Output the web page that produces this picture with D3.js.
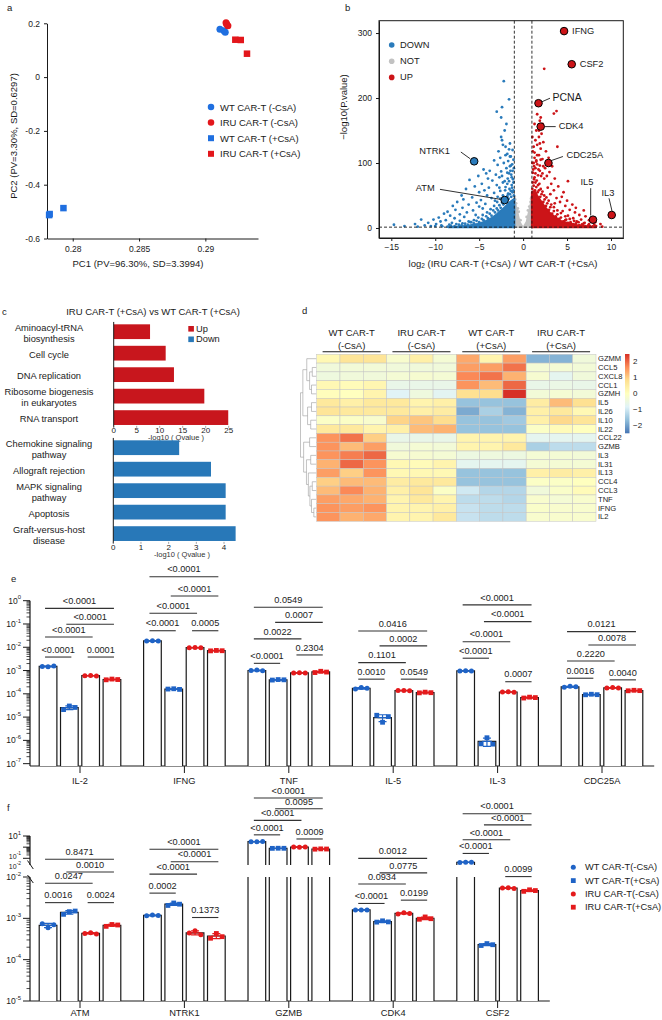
<!DOCTYPE html>
<html><head><meta charset="utf-8">
<script src="https://cdn.jsdelivr.net/npm/d3@7/dist/d3.min.js"></script>
<style>html,body{margin:0;padding:0;background:#fff;}svg{display:block;}</style>
</head><body>
<svg id="fig" width="662" height="1020" xmlns="http://www.w3.org/2000/svg"></svg>
<script>
// ======================= DATA =======================
// ---- Panel a: PCA ----
const pcaGroups = ["WT CAR-T (-CsA)", "IRU CAR-T (-CsA)", "WT CAR-T (+CsA)", "IRU CAR-T (+CsA)"];
const pcaPC1 = [[0.2911, 0.2914, 0.2915], [0.29156, 0.2917, 0.2916], [0.27822, 0.27826, 0.2793], [0.29226, 0.29267, 0.29314]];
const pcaPC2 = [[0.178, 0.172, 0.167], [0.202, 0.191, 0.197], [-0.513, -0.509, -0.487], [0.139, 0.138, 0.087]];
const pc1Ticks = [0.28, 0.285, 0.29];
const pc2Ticks = [0.2, 0, -0.2, -0.4, -0.6];

// ---- Panel b: volcano ----
const volcNotCore = [[-1.0,0],[-1.0,48],[-0.8,40],[-0.55,25],[-0.3,10],[0,3],[0.3,10],[0.55,25],[0.8,40],[1.0,48],[1.0,0]];
const volcNot = [[-0.9,44],[-0.8,38],[-0.6,30],[0.7,33],[0.9,45],[-0.3,12],[0.4,17],[0.85,40],[-0.95,48],[0.95,47],[-0.5,25],[0.55,27]];
const volcDownCore = [[-1.0,1.3],[-1.0,45],[-1.5,40],[-2.0,33],[-2.5,27],[-3.0,21],[-3.6,15],[-4.3,10],[-5.2,6],[-6.3,3.5],[-7.6,2],[-8.5,1.3]];
const volcDown = [[-2.2,226],[-1.6,198],[-2.4,186],[-3.0,179],[-2.5,170],[-1.9,160],[-2.1,150],[-2.5,140],[-2.4,135],[-2.3,128],[-2.0,125],[-1.6,121],[-2.8,118],[-1.8,114],[-2.0,112],[-1.5,110],[-2.6,108],[-3.3,104],[-1.7,103],[-2.2,100],[-2.9,97],[-1.4,96],[-4.5,90],[-3.8,88],[-2.5,87],[-4.2,84],[-1.8,85],[-3.1,82],[-5.1,80],[-2.7,78],[-4.0,76],[-6.1,74],[-3.5,73],[-1.6,72],[-2.3,70],[-4.7,68],[-3.0,66],[-5.5,64],[-2.0,63],[-3.9,62],[-6.5,60],[-4.4,58],[-2.6,57],[-5.0,55],[-3.3,54],[-1.7,52],[-7.0,50],[-4.1,50],[-2.9,48],[-5.8,47],[-3.6,46],[-6.8,44],[-4.8,43],[-3.2,42],[-7.5,40],[-5.3,39],[-4.3,37],[-6.2,36],[-8.0,34],[-5.0,33],[-6.9,31],[-4.6,30],[-7.7,28],[-5.7,27],[-8.6,25],[-6.4,24],[-9.0,22],[-7.2,21],[-5.4,20],[-8.3,19],[-6.7,17],[-9.6,16],[-7.8,15],[-10.2,13],[-8.8,12],[-11.6,13],[-7.2,11],[-9.4,10],[-10.8,8],[-12.3,6],[-14.7,5],[-11.2,4],[-9.9,6],[-13.5,3],[-8.1,8],[-6.0,9],[-10.5,3],[-12.0,2],[-1.1,70],[-1.3,78],[-1.2,88],[-1.5,95],[-1.9,92],[-1.1,105],[-1.4,110],[-1.3,66],[-2.1,72],[-2.4,80],[-1.6,84],[-1.8,68],[-2.7,62],[-1.2,120],[-1.5,130],
 [-1.05,50],[-1.2,55],[-1.35,48],[-1.5,52],[-1.65,45],[-1.8,49],[-1.95,40],[-2.1,44],[-2.25,36],[-2.4,39],[-2.55,31],[-2.7,35],[-2.85,27],[-3.0,30],[-3.2,24],[-3.4,27],[-3.6,19],[-3.8,22],[-4.0,15],[-4.2,18],[-4.5,12],[-4.7,14],[-5.0,9],[-5.3,11],[-5.6,7],[-5.9,9],[-6.3,5],[-6.6,6.5],[-7.0,4],[-7.3,5],[-7.8,3],[-8.2,3.5],[-8.6,2],[-9.2,2.5],[-1.1,58],[-1.25,62],[-1.4,57],[-1.55,60],[-1.7,53],[-1.15,75],[-1.35,82],[-1.05,92],[-1.25,98],[-1.45,88],[-1.75,76],[-2.05,58],[-2.3,50],[-2.6,45],[-2.95,40],[-3.3,34],[-3.7,29],[-4.1,24],[-4.6,20],[-5.1,16],[-5.6,12],[-6.2,10],[-6.9,7],[-7.6,6],[-8.4,5],[-9.3,4],[-10.0,3]];
const volcUpCore = [[1.0,1.3],[1.0,55],[1.3,57],[1.6,50],[2.0,42],[2.5,32],[3.0,24],[3.6,17],[4.3,11],[5.2,7],[6.3,4],[7.5,2],[8.3,1.3]];
const volcUp = [[2.4,245],[3.8,180],[3.5,176],[1.6,175],[2.0,170],[1.9,165],[2.2,160],[1.5,150],[2.1,145],[1.8,140],[3.9,125],[1.4,135],[2.3,132],[1.6,128],[2.0,122],[2.6,118],[1.3,116],[1.8,112],[2.9,108],[2.2,106],[1.5,104],[3.3,95],[2.5,92],[1.9,96],[3.0,86],[2.7,80],[3.6,76],[5.1,72],[3.2,68],[4.0,64],[2.8,62],[3.5,58],[4.6,55],[3.1,52],[4.4,48],[5.0,42],[3.8,46],[4.2,40],[5.6,36],[3.6,38],[4.8,34],[6.0,31],[5.3,28],[6.9,27],[4.5,26],[5.9,24],[6.4,20],[5.1,19],[7.1,18],[5.7,15],[6.6,13],[7.5,12],[4.9,13],[6.1,10],[7.0,8],[8.2,9],[5.4,7],[8.8,6],[6.8,4],[7.6,3],[9.0,2],[1.1,118],[1.3,108],[1.2,100],[1.6,98],[1.4,92],[1.9,88],[1.1,85],[2.2,84],[1.7,81],[1.3,78],[2.4,76],[1.5,102],[2.0,105],[1.2,125],[1.9,130],[1.05,140],[1.6,112],[2.3,95],[1.8,150],[1.3,160],
 [1.05,60],[1.2,65],[1.35,58],[1.5,63],[1.65,55],[1.8,58],[1.95,48],[2.1,52],[2.3,40],[2.45,44],[2.6,34],[2.75,38],[2.95,28],[3.1,32],[3.3,22],[3.5,26],[3.7,18],[3.9,21],[4.1,14],[4.3,16],[4.6,10],[4.8,12],[5.1,8],[5.4,9],[5.7,6],[6.0,7],[6.4,4.5],[6.7,5.5],[7.1,3],[7.4,4],[7.9,2.5],[8.3,3],[1.1,70],[1.25,75],[1.4,70],[1.55,73],[1.7,66],[1.85,68],[2.0,60],[2.2,56],[2.4,50],[2.65,47],[2.9,42],[3.2,36],[3.5,32],[3.9,27],[4.3,23],[4.8,18],[5.3,14],[5.8,11],[6.3,9],[6.9,7],[7.5,6],[8.1,5],[1.15,90],[1.4,84],[1.05,100],[1.75,90],[2.05,80],[1.25,95]];
const volcGenes = ["IFNG","CSF2","PCNA","CDK4","CDC25A","IL5","IL3","NTRK1","ATM"];
const volcGeneFC = [4.66, 5.53, 1.75, 2.0, 2.88, 7.95, 10.08, -5.57, -2.1];
const volcGeneP = [303, 252, 192, 156, 100, 12.8, 20, 102.6, 43];
const volcXTicks = [-15, -10, -5, 0, 5, 10];
const volcYTicks = [0, 100, 200, 300];

// ---- Panel c: KEGG enrichment ----
const upTerms = ["Aminoacyl-tRNA\nbiosynthesis", "Cell cycle", "DNA replication", "Ribosome biogenesis\nin eukaryotes", "RNA transport"];
const upValues = [7.9, 11.3, 13.1, 19.7, 24.9];
const downTerms = ["Chemokine signaling\npathway", "Allograft rejection", "MAPK signaling\npathway", "Apoptosis", "Graft-versus-host\ndisease"];
const downValues = [2.38, 3.53, 4.06, 4.06, 4.42];
const upTicks = [0, 5, 10, 15, 20, 25];
const downTicks = [0, 1, 2, 3, 4];

// ---- Panel d: heatmap ----
const hmGenes = ["GZMM","CCL5","CXCL8","CCL1","GZMH","IL5","IL26","IL10","IL22","CCL22","GZMB","IL3","IL31","IL13","CCL4","CCL3","TNF","IFNG","IL2"];
const hmGroups = ["WT CAR-T\n(-CsA)", "IRU CAR-T\n(-CsA)", "WT CAR-T\n(+CsA)", "IRU CAR-T\n(+CsA)"];
const hmValues = [
 [0.2,0.7,0.7, -0.2,0.4,-0.3, 1.4,0.3,1.5, -1.8,-1.8,-0.4],
 [-0.4,-0.35,-0.35, -0.4,-0.4,-0.4, 1.5,1.5,1.9, -0.3,-0.3,-0.35],
 [-0.45,-0.4,-0.4, -0.3,-0.25,-0.3, 1.7,1.9,1.3, -0.25,-0.7,-0.4],
 [0.2,0.1,0.25, -0.6,-0.6,-0.6, 1.6,1.2,2.0, -0.6,-0.55,-0.6],
 [0.05,0.0,0.3, -0.8,-0.45,-0.75, 0.8,0.85,2.5, -0.35,-0.3,-0.35],
 [0.6,0.4,0.6, 0.6,0.3,0.4, -1.6,-1.6,-1.6, 0.5,1.2,0.8],
 [0.7,0.6,0.6, 0.6,0.4,0.5, -1.9,-1.4,-1.8, 0.4,0.6,0.2],
 [-0.1,-0.1,-0.2, 0.95,1.1,0.85, -1.6,-1.6,-1.5, 0.4,0.9,0.7],
 [0.6,0.6,0.3, 0.4,1.2,1.3, -1.6,-1.6,-1.6, -0.1,0.1,0.0],
 [1.6,1.9,1.0, -0.6,-0.6,-0.6, 0.3,0.3,0.3, -0.7,-0.7,-0.7],
 [1.6,1.2,1.5, -0.4,-0.3,-0.35, 0.3,0.3,0.6, -1.4,-1.2,-1.2],
 [1.6,1.8,2.0, -0.25,-0.25,-0.3, -0.5,-0.45,-0.5, -0.3,-0.3,-0.35],
 [1.3,2.0,1.6, 0.2,0.1,0.3, -0.7,-0.7,-0.7, -0.3,-0.3,-0.3],
 [1.5,1.0,1.6, 0.2,0.2,0.2, -1.6,-1.6,-1.6, 0.4,0.5,0.4],
 [1.0,1.2,1.2, 0.5,0.6,0.6, -1.6,-1.6,-1.6, -0.1,-0.1,0.0],
 [1.2,1.7,1.3, 0.4,0.7,-0.1, -1.0,-1.3,-1.3, -0.4,-0.15,0.1],
 [1.5,1.4,1.3, 0.3,0.6,0.3, -1.2,-1.2,-1.3, -0.2,-0.3,-0.2],
 [1.6,1.5,1.6, 0.3,0.3,0.4, -1.1,-1.2,-1.2, -0.15,-0.2,-0.2],
 [1.6,1.3,1.4, 0.3,0.3,0.6, -1.1,-1.2,-1.2, -0.2,-0.2,-0.2]
];
const hmTree = {h:1,c:[{h:0.85,c:[{h:0.6,c:[0,{h:0.42,c:[{h:0.25,c:[1,2]},{h:0.3,c:[3,4]}]}]},{h:0.55,c:[{h:0.3,c:[5,6]},{h:0.35,c:[7,8]}]}]},{h:0.8,c:[{h:0.42,c:[9,10]},{h:0.62,c:[{h:0.35,c:[11,12]},{h:0.5,c:[13,{h:0.4,c:[{h:0.25,c:[14,15]},{h:0.3,c:[16,{h:0.15,c:[17,18]}]}]}]}]}]}]};
const hmLegendTicks = [2, 1, 0, -1, -2];

// ---- Panels e / f: qPCR ----
const conditions = ["WT CAR-T(-CsA)", "WT CAR-T(+CsA)", "IRU CAR-T(-CsA)", "IRU CAR-T(+CsA)"];
const eGenes = ["IL-2", "IFNG", "TNF", "IL-5", "IL-3", "CDC25A"];
const eReplicates = [
 [[1.5e-3,1.45e-3,1.55e-3],[2.1e-5,3.0e-5,2.6e-5],[6.0e-4,6.1e-4,5.9e-4],[4.0e-4,4.3e-4,4.1e-4]],
 [[1.85e-2,1.9e-2,1.85e-2],[1.6e-4,1.65e-4,1.55e-4],[9.5e-3,9.7e-3,9.6e-3],[7.0e-3,7.3e-3,7.1e-3]],
 [[1.0e-3,1.05e-3,0.97e-3],[3.9e-4,4.1e-4,4.0e-4],[7.8e-4,8.0e-4,7.9e-4],[8.2e-4,9.3e-4,8.6e-4]],
 [[1.6e-4,1.85e-4,1.75e-4],[1.2e-5,6.0e-6,1.05e-5],[1.38e-4,1.4e-4,1.36e-4],[1.1e-4,1.18e-4,1.12e-4]],
 [[9.5e-4,9.8e-4,9.6e-4],[7.1e-7,1.3e-6,6.9e-7],[1.2e-4,1.22e-4,1.18e-4],[6.6e-5,7.2e-5,6.9e-5]],
 [[1.9e-4,2.1e-4,2.0e-4],[9.1e-5,9.6e-5,9.2e-5],[1.8e-4,1.85e-4,1.78e-4],[1.35e-4,1.42e-4,1.37e-4]]
];
// [gene index, bar i, bar j, p label, bracket height (log10 units)]
const eBrackets = [
 [0,0,3,"<0.0001",-0.33],[0,1,3,"<0.0001",-1.01],[0,0,2,"<0.0001",-1.56],[0,0,1,"<0.0001",-2.42],[0,2,3,"0.0001",-2.42],
 [1,0,3,"<0.0001",1.03],[1,1,3,"<0.0001",0.2],[1,0,2,"<0.0001",-0.54],[1,0,1,"<0.0001",-1.29],[1,2,3,"0.0005",-1.29],
 [2,0,3,"0.0549",-0.28],[2,1,3,"0.0007",-0.93],[2,0,2,"0.0022",-1.64],[2,0,1,"<0.0001",-2.69],[2,2,3,"0.2304",-2.33],
 [3,0,3,"0.0416",-1.30],[3,1,3,"0.0002",-1.94],[3,0,2,"0.1101",-2.66],[3,0,1,"0.0010",-3.37],[3,2,3,"0.0549",-3.37],
 [4,0,3,"<0.0001",-0.18],[4,1,3,"<0.0001",-0.9],[4,0,2,"<0.0001",-1.76],[4,0,1,"<0.0001",-2.47],[4,2,3,"0.0007",-3.48],
 [5,0,3,"0.0121",-1.33],[5,1,3,"0.0078",-1.9],[5,0,2,"0.2220",-2.59],[5,0,1,"0.0016",-3.33],[5,2,3,"0.0040",-3.4]
];
const fGenes = ["ATM", "NTRK1", "GZMB", "CDK4", "CSF2"];
const fReplicates = [
 [[7.4e-4,5.9e-4,7.0e-4],[1.25e-3,1.45e-3,1.5e-3],[4.3e-4,4.5e-4,4.2e-4],[6.4e-4,7.1e-4,6.9e-4]],
 [[1.15e-3,1.2e-3,1.17e-3],[2.05e-3,2.35e-3,2.2e-3],[4.4e-4,5.0e-4,4.0e-4],[3.3e-4,4.3e-4,3.6e-4]],
 [[3.1,3.0,3.2],[0.78,0.80,0.79],[1.05,1.0,1.03],[0.66,0.70,0.68]],
 [[1.6e-3,1.58e-3,1.6e-3],[8.1e-4,8.7e-4,8.2e-4],[1.28e-3,1.36e-3,1.3e-3],[0.95e-3,1.08e-3,0.98e-3]],
 [[0.043,0.045,0.044],[2.2e-4,2.45e-4,2.3e-4],[5.4e-3,5.5e-3,5.3e-3],[4.5e-3,4.9e-3,4.7e-3]]
];
const fBrackets = [
 [0,0,3,"0.8471",-1.57],[0,1,3,"0.0010",-1.88],[0,0,2,"0.0247",-2.15],[0,0,1,"0.0016",-2.62],[0,2,3,"0.0024",-2.62],
 [1,0,3,"<0.0001",-1.33],[1,1,3,"<0.0001",-1.63],[1,0,2,"<0.0001",-1.93],[1,0,1,"0.0002",-2.39],[1,2,3,"0.1373",-2.98],
 [2,0,3,"<0.0001",-0.09],[2,1,3,"0.0095",-0.35],[2,0,2,"<0.0001",-0.63],[2,0,1,"<0.0001",-0.98],[2,2,3,"0.0009",-1.08],
 [3,0,3,"0.0012",-1.55],[3,1,3,"0.0775",-1.9],[3,0,2,"0.0934",-2.17],[3,0,1,"<0.0001",-2.64],[3,2,3,"0.0199",-2.56],
 [4,0,3,"<0.0001",-0.47],[4,1,3,"<0.0001",-0.74],[4,0,2,"<0.0001",-1.10],[4,0,1,"<0.0001",-1.43],[4,2,3,"0.0099",-1.99]
];

// ======================= RENDER =======================
const FONT = "'Liberation Sans', Arial, Helvetica, sans-serif";
const INK = "#1a1a1a";
const svg = d3.select("#fig").attr("font-family", FONT);
svg.append("rect").attr("width", 662).attr("height", 1020).attr("fill", "#fff");

function label(g, x, y, s, o = {}) {
  const lines = String(s).split("\n");
  const lh = o.lh || 11;
  const t = g.append("text").attr("x", x).attr("y", y)
    .attr("font-size", o.size || 9.5).attr("fill", o.fill || INK)
    .attr("text-anchor", o.anchor || "start")
    .attr("dominant-baseline", o.baseline || "central");
  if (o.rotate) t.attr("transform", `rotate(${o.rotate},${x},${y})`);
  if (lines.length === 1) t.text(s);
  else lines.forEach((ln, i) => t.append("tspan").attr("x", x)
      .attr("dy", i === 0 ? -(lines.length - 1) * lh / 2 : lh).text(ln));
  return t;
}
function styleAxis(sel, fs) {
  sel.attr("font-family", FONT).attr("font-size", fs);
  sel.selectAll("path.domain").attr("stroke", INK);
  sel.selectAll(".tick line").attr("stroke", INK);
  sel.selectAll(".tick text").attr("fill", INK);
}
function symbol(g, shape, x, y, size, color, stroke) {
  if (shape === "circle") return g.append("circle").attr("cx", x).attr("cy", y).attr("r", size / 2)
      .attr("fill", color).attr("stroke", stroke || "none");
  return g.append("rect").attr("x", x - size / 2).attr("y", y - size / 2).attr("width", size).attr("height", size)
      .attr("fill", color).attr("stroke", stroke || "none");
}

// ---------- Panel a ----------
{
  const g = svg.append("g");
  label(g, 7, 7, "a", {size: 9.5});
  const x = d3.scaleLinear().domain([0.27806, 0.29397]).range([47, 258]);
  const y = d3.scaleLinear().domain([-0.6, 0.2]).range([238.5, 23.3]);
  g.append("g").attr("transform", "translate(0,238.5)")
    .call(d3.axisBottom(x).tickValues(pc1Ticks).tickSize(3).tickSizeOuter(0).tickPadding(4).tickFormat(d => String(d)))
    .call(styleAxis, 8.5);
  g.append("g").attr("transform", "translate(47,0)")
    .call(d3.axisLeft(y).tickValues(pc2Ticks).tickSize(3).tickSizeOuter(0).tickPadding(4).tickFormat(d => String(d)))
    .call(styleAxis, 8.5);
  const cols = ["#1f6fe0", "#e3161b", "#1f6fe0", "#e3161b"];
  const shapes = ["circle", "circle", "square", "square"];
  pcaGroups.forEach((grp, gi) => {
    pcaPC1[gi].forEach((v, k) => symbol(g, shapes[gi], x(v), y(pcaPC2[gi][k]), shapes[gi] === "circle" ? 7 : 6.5, cols[gi]));
  });
  pcaGroups.forEach((grp, gi) => {
    const yy = 107 + gi * 15.6;
    symbol(g, shapes[gi], 211, yy, shapes[gi] === "circle" ? 6.5 : 6, cols[gi]);
    label(g, 220, yy, grp, {size: 9.5});
  });
  label(g, 138, 263, "PC1 (PV=96.30%, SD=3.3994)", {size: 9.5, anchor: "middle"});
  label(g, 13, 136, "PC2 (PV=3.30%, SD=0.6297)", {size: 9.5, anchor: "middle", rotate: -90});
}

// ---------- Panel b ----------
{
  const g = svg.append("g");
  label(g, 345, 7, "b", {size: 9.5});
  const L = 379, R = 623.3, T = 20.7, B = 238;
  const x = d3.scaleLinear().domain([-16.4, 11.4]).range([L, R]);
  const y = d3.scaleLinear().domain([-15.4, 319]).range([B, T]);
  svg.append("clipPath").attr("id", "clipB").append("rect").attr("x", L).attr("y", T).attr("width", R - L).attr("height", B - T);
  const pg = g.append("g").attr("clip-path", "url(#clipB)");
  const line = d3.line().x(d => x(d[0])).y(d => y(d[1]));
  const GREY = "#c2c2c2", BLUE = "#2a7bbb", RED = "#cc1418";
  pg.append("path").attr("d", line(volcNotCore) + "Z").attr("fill", GREY);
  volcNot.forEach(d => pg.append("circle").attr("cx", x(d[0])).attr("cy", y(d[1])).attr("r", 1.4).attr("fill", GREY));
  pg.append("path").attr("d", line(volcDownCore) + "Z").attr("fill", BLUE).attr("stroke", BLUE).attr("stroke-width", 2).attr("stroke-linejoin", "round");
  volcDown.forEach(d => pg.append("circle").attr("cx", x(d[0])).attr("cy", y(d[1])).attr("r", 1.4).attr("fill", BLUE));
  pg.append("path").attr("d", line(volcUpCore) + "Z").attr("fill", RED).attr("stroke", RED).attr("stroke-width", 2).attr("stroke-linejoin", "round");
  volcUp.forEach(d => pg.append("circle").attr("cx", x(d[0])).attr("cy", y(d[1])).attr("r", 1.4).attr("fill", RED));
  // threshold lines
  [-1, 1].forEach(v => g.append("line").attr("x1", x(v)).attr("x2", x(v)).attr("y1", T).attr("y2", B)
      .attr("stroke", INK).attr("stroke-width", 0.9).attr("stroke-dasharray", "3,2"));
  g.append("line").attr("x1", L).attr("x2", R).attr("y1", y(1.3)).attr("y2", y(1.3))
      .attr("stroke", INK).attr("stroke-width", 0.9).attr("stroke-dasharray", "3,2");
  // frame & axes
  g.append("rect").attr("x", L).attr("y", T).attr("width", R - L).attr("height", B - T).attr("fill", "none").attr("stroke", INK).attr("stroke-width", 1);
  g.append("g").attr("transform", `translate(0,${B})`)
    .call(d3.axisBottom(x).tickValues(volcXTicks).tickSize(3).tickSizeOuter(0).tickPadding(3).tickFormat(d => d < 0 ? "\u2212" + Math.abs(d) : String(d)))
    .call(styleAxis, 8.5);
  g.append("g").attr("transform", `translate(${L},0)`)
    .call(d3.axisLeft(y).tickValues(volcYTicks).tickSize(3).tickSizeOuter(0).tickPadding(4))
    .call(styleAxis, 8.5);
  // labelled genes
  const lay = {
    IFNG:   {tx: 8, ty: 0, ld: null},
    CSF2:   {tx: 8, ty: 0, ld: null},
    PCNA:   {tx: 14, ty: -6.3, ld: [3.5, -1.5, 11.5, -5], fs: 10.5},
    CDK4:   {tx: 18, ty: -0.3, ld: [4, 0, 15, 0]},
    CDC25A: {tx: 18, ty: -8, ld: [3, -2.5, 14.5, -6.5]},
    IL5:    {tx: -6, ty: -38, ld: [-2.3, -4.2, -2.3, -31.5], anchor: "middle"},
    IL3:    {tx: -3.7, ty: -22.3, ld: [0.3, -4, -2.7, -16.7], anchor: "middle"},
    NTRK1:  {tx: -39.6, ty: -10.6, ld: [-4, -2.6, -13.3, -9.3], anchor: "middle"},
    ATM:    {tx: -79.4, ty: -12, ld: [-4, -0.7, -64.7, -10.7], anchor: "middle"}
  };
  volcGenes.forEach((gn, i) => {
    const px = x(volcGeneFC[i]), py = y(volcGeneP[i]);
    const l = lay[gn];
    if (l.ld) g.append("line").attr("x1", px + l.ld[0]).attr("y1", py + l.ld[1]).attr("x2", px + l.ld[2]).attr("y2", py + l.ld[3])
        .attr("stroke", INK).attr("stroke-width", 0.9);
    g.append("circle").attr("cx", px).attr("cy", py).attr("r", 3.8)
      .attr("fill", volcGeneFC[i] < 0 ? BLUE : RED).attr("stroke", "#000").attr("stroke-width", 1);
    label(g, px + l.tx, py + l.ty, gn, {size: l.fs || 9.3, anchor: l.anchor || "start"});
  });
  // legend
  [["DOWN", BLUE], ["NOT", GREY], ["UP", RED]].forEach((d, i) => {
    const yy = 45 + i * 16.2;
    g.append("circle").attr("cx", 391.7).attr("cy", yy).attr("r", 2.8).attr("fill", d[1]);
    label(g, 400, yy, d[0], {size: 9.3});
  });
  label(g, 343, 107, "\u2212log10(P.value)", {size: 9.5, anchor: "middle", rotate: -90});
  const xl = g.append("text").attr("x", 503).attr("y", 263).attr("text-anchor", "middle").attr("dominant-baseline", "central")
    .attr("font-size", 9.5).attr("fill", INK);
  xl.append("tspan").text("log");
  xl.append("tspan").attr("font-size", 6.5).attr("dy", 2).text("2");
  xl.append("tspan").attr("dy", -2).text(" (IRU CAR-T (+CsA) / WT CAR-T (+CsA)");
}

// ---------- Panel c ----------
{
  const g = svg.append("g");
  label(g, 2, 311, "c", {size: 9.5});
  label(g, 153, 311, "IRU CAR-T (+CsA) vs WT CAR-T (+CsA)", {size: 9.5, anchor: "middle"});
  const RED = "#c8161d", BLUE = "#2878b8";
  function bars(terms, values, ticks, xr, yr, color, labY, titleX) {
    const x = d3.scaleLinear().domain([ticks[0], ticks[ticks.length - 1]]).range(xr);
    const y = d3.scaleBand().domain(terms).range(yr).paddingInner(0.313).paddingOuter(0.157);
    terms.forEach((t, i) => {
      g.append("rect").attr("x", x(0)).attr("y", y(t)).attr("width", x(values[i]) - x(0)).attr("height", y.bandwidth()).attr("fill", color);
      label(g, 49, y(t) + y.bandwidth() / 2 + 1.5, t, {size: 9.3, anchor: "middle", lh: 11});
    });
    g.append("line").attr("x1", x(0)).attr("x2", x(0)).attr("y1", yr[0] + 1).attr("y2", yr[1] - 1).attr("stroke", INK).attr("stroke-width", 1);
    ticks.forEach(v => {
      g.append("line").attr("x1", x(v)).attr("x2", x(v)).attr("y1", yr[1] - 2.5).attr("y2", yr[1] - 0.5).attr("stroke", "#666").attr("stroke-width", 0.6);
      label(g, x(v), labY, String(v), {size: 8, anchor: "middle"});
    });
    label(g, titleX, labY + 7.5, "-log10 ( Qvalue )", {size: 7.5, anchor: "middle", fill: "#333"});
  }
  bars(upTerms, upValues, upTicks, [113.7, 228.7], [320.95, 428.35], RED, 430, 176);
  bars(downTerms, downValues, downTicks, [113.3, 224], [436.95, 544.35], BLUE, 547, 182);
  [["Up", RED], ["Down", BLUE]].forEach((d, i) => {
    const yy = 328.8 + i * 10.5;
    g.append("rect").attr("x", 188.3).attr("y", yy - 2.8).attr("width", 5.6).attr("height", 5.6).attr("fill", d[1]);
    label(g, 196, yy, d[0], {size: 9.3});
  });
}

// ---------- Panel d ----------
{
  const g = svg.append("g");
  label(g, 302, 310, "d", {size: 9.5});
  const x = d3.scaleBand().domain(d3.range(12)).range([316.7, 596]);
  const y = d3.scaleBand().domain(hmGenes).range([354.3, 521.3]);
  const stops = ["#4575b4", "#91bfdb", "#e0f3f8", "#ffffbf", "#fee090", "#fc8d59", "#d73027"];
  const color = d3.scaleLinear().domain([-2.5, -1.667, -0.833, 0, 0.833, 1.667, 2.5]).range(stops).clamp(true);
  hmGenes.forEach((gn, r) => {
    hmValues[r].forEach((v, c) => {
      g.append("rect").attr("x", x(c)).attr("y", y(gn)).attr("width", x.bandwidth()).attr("height", y.bandwidth())
        .attr("fill", color(v)).attr("stroke", "#c4c4c4").attr("stroke-width", 0.5);
    });
    label(g, 598, y(gn) + y.bandwidth() / 2, gn, {size: 7.6});
  });
  hmGroups.forEach((grp, k) => {
    const cx = x(k * 3) + x.bandwidth() * 1.5;
    label(g, cx, 338.7, grp, {size: 9.5, anchor: "middle", lh: 12.7});
    g.append("line").attr("x1", cx - 29).attr("x2", cx + 29).attr("y1", 351.7).attr("y2", 351.7).attr("stroke", INK).attr("stroke-width", 1.1);
  });
  const dx = d3.scaleLinear().domain([0, 1]).range([316.2, 300.5]);
  function node(n) {
    if (typeof n === "number") return {y: y(hmGenes[n]) + y.bandwidth() / 2, h: 0};
    const a = node(n.c[0]), b = node(n.c[1]);
    const xx = dx(n.h);
    g.append("path").attr("d", `M${dx(a.h)},${a.y}H${xx}V${b.y}H${dx(b.h)}`)
      .attr("fill", "none").attr("stroke", "#9a9a9a").attr("stroke-width", 0.6);
    return {y: (a.y + b.y) / 2, h: n.h};
  }
  node(hmTree);
  const cy = d3.scaleLinear().domain([-2.5, 2.5]).range([433.3, 354]);
  const defs = svg.append("defs");
  const grad = defs.append("linearGradient").attr("id", "hmgrad").attr("x1", 0).attr("y1", 1).attr("x2", 0).attr("y2", 0);
  stops.forEach((s, i) => grad.append("stop").attr("offset", i / (stops.length - 1)).attr("stop-color", s));
  g.append("rect").attr("x", 625).attr("y", 354).attr("width", 4.5).attr("height", 79.3).attr("fill", "url(#hmgrad)");
  hmLegendTicks.forEach(v => label(g, 633, cy(v), v < 0 ? "\u2212" + Math.abs(v) : String(v), {size: 8}));
}

// ---------- Panels e / f (bar charts) ----------
const COND_COL = ["#1f63c6", "#1f63c6", "#e41a1c", "#e41a1c"];
const COND_SHAPE = ["circle", "square", "circle", "square"];
const sub = d3.scaleBand().domain(d3.range(4)).range([-42.6, 42.6]).paddingInner(0.17).paddingOuter(0.085);
const subC = i => sub(i) + sub.bandwidth() / 2;

function powLabel(g, x, y, exp, fs) {
  const f = fs || 8.5;
  const t = g.append("text").attr("x", x).attr("y", y).attr("text-anchor", "end").attr("font-size", f)
    .attr("fill", INK).attr("dominant-baseline", "central");
  t.append("tspan").text("10");
  t.append("tspan").attr("dy", -f * 0.4).attr("font-size", f * 0.7).text(exp);
}
function logTicks(g, scale, axX, exps, labelled, minorMax) {
  exps.forEach(e => {
    const yy = scale(Math.pow(10, e));
    g.append("line").attr("x1", axX - 7).attr("x2", axX).attr("y1", yy).attr("y2", yy).attr("stroke", INK).attr("stroke-width", 1);
    if (labelled) powLabel(g, axX - 9, yy, String(e));
    if (e < minorMax) for (let k = 2; k <= 9; k++) {
      const my = scale(k * Math.pow(10, e));
      g.append("line").attr("x1", axX - 3.5).attr("x2", axX).attr("y1", my).attr("y2", my).attr("stroke", INK).attr("stroke-width", 0.8);
    }
  });
}
function drawBarPanel(g, genes, reps, brackets, xr, yfn, yb, bracketScale, brk) {
  const x = d3.scaleBand().domain(genes).range(xr);
  const axY = yb;
  g.append("line").attr("x1", 30).attr("x2", xr[1]).attr("y1", axY).attr("y2", axY).attr("stroke", INK).attr("stroke-width", 1.2);
  genes.forEach((gn, gi) => {
    const cx = x(gn) + x.bandwidth() / 2;
    g.append("line").attr("x1", cx).attr("x2", cx).attr("y1", axY).attr("y2", axY + 7).attr("stroke", INK).attr("stroke-width", 1);
    label(g, cx, axY + (brk ? 12.3 : 15), gn, {size: 9.3, anchor: "middle"});
    reps[gi].forEach((vals, ci) => {
      const m = d3.mean(vals), sd = d3.deviation(vals);
      const x0 = cx + sub(ci), x1 = x0 + sub.bandwidth(), bc = cx + subC(ci);
      const top = yfn(m);
      if (brk && m > brk.val) {
        g.append("rect").attr("x", x0).attr("y", brk.lowTop).attr("width", x1 - x0).attr("height", axY - brk.lowTop).attr("fill", "#fff");
        g.append("path").attr("d", `M${x0},${axY}V${brk.lowTop}M${x1},${brk.lowTop}V${axY}`).attr("fill", "none").attr("stroke", INK).attr("stroke-width", 1.2);
        g.append("path").attr("d", `M${x0},${brk.upBottom}V${top}H${x1}V${brk.upBottom}`).attr("fill", "#fff").attr("stroke", INK).attr("stroke-width", 1.2);
      } else {
        g.append("path").attr("d", `M${x0},${axY}V${top}H${x1}V${axY}`).attr("fill", "#fff").attr("stroke", INK).attr("stroke-width", 1.2);
      }
      const col = COND_COL[ci];
      const lo = yfn(m - sd > 0 ? m - sd : m * 0.5), hi = yfn(m + sd);
      g.append("path").attr("d", `M${bc},${lo}V${hi}M${bc - 4},${lo}H${bc + 4}M${bc - 4},${hi}H${bc + 4}M${bc - 5},${top}H${bc + 5}`)
        .attr("stroke", col).attr("stroke-width", 1.2).attr("fill", "none");
      vals.forEach((v, k) => symbol(g, COND_SHAPE[ci], bc + (k - 1) * 5.8, yfn(v), COND_SHAPE[ci] === "circle" ? 5 : 4.8, col));
    });
  });
  brackets.forEach(([gi, i, j, lab, lv]) => {
    const cx = x(genes[gi]) + x.bandwidth() / 2;
    const xa = cx + subC(i) - 3, xb = cx + subC(j) + 2;
    const yy = bracketScale(Math.pow(10, lv));
    g.append("line").attr("x1", xa).attr("x2", xb).attr("y1", yy).attr("y2", yy).attr("stroke", "#333").attr("stroke-width", 1.1);
    label(g, (xa + xb) / 2, yy - 4.3, lab, {size: 9.2, anchor: "middle", baseline: "alphabetic", fill: "#222"});
  });
}

// ---------- Panel e ----------
{
  const g = svg.append("g");
  label(g, 11, 578, "e", {size: 9.5});
  const y = d3.scaleLog().domain([Math.pow(10, -7.1), 1]).range([766, 600.7]);
  g.append("line").attr("x1", 30).attr("x2", 30).attr("y1", 600.7).attr("y2", 766).attr("stroke", INK).attr("stroke-width", 1.2);
  logTicks(g, y, 30, d3.range(-7, 1), true, 0);
  drawBarPanel(g, eGenes, eReplicates, eBrackets, [27.8, 654.2], y, 766, y, null);
}

// ---------- Panel f ----------
{
  const g = svg.append("g");
  label(g, 7, 807, "f", {size: 9.5});
  const lower = d3.scaleLog().domain([1e-5, 1e-2]).range([1001, 877]);
  const upper = d3.scaleLog().domain([Math.pow(10, -1.6), 10]).range([865, 836]);
  const yfn = v => v > 1e-2 ? upper(v) : lower(v);
  g.append("line").attr("x1", 30).attr("x2", 30).attr("y1", 877).attr("y2", 1001).attr("stroke", INK).attr("stroke-width", 1.2);
  g.append("line").attr("x1", 30).attr("x2", 30).attr("y1", 836).attr("y2", 865).attr("stroke", INK).attr("stroke-width", 1.2);
  g.append("line").attr("x1", 27.5).attr("y1", 860.5).attr("x2", 33.3).attr("y2", 869).attr("stroke", INK).attr("stroke-width", 1);
  g.append("line").attr("x1", 27.5).attr("y1", 875).attr("x2", 33.3).attr("y2", 883).attr("stroke", INK).attr("stroke-width", 1);
  logTicks(g, lower, 30, [-5, -4, -3, -2], true, -2);
  [1, 0].forEach(e => {
    const yy = upper(Math.pow(10, e));
    g.append("line").attr("x1", 23).attr("x2", 30).attr("y1", yy).attr("y2", yy).attr("stroke", INK).attr("stroke-width", 1);
  });
  [-1, 0].forEach(e => { for (let k = 2; k <= 9; k++) {
    const my = upper(k * Math.pow(10, e));
    g.append("line").attr("x1", 26.5).attr("x2", 30).attr("y1", my).attr("y2", my).attr("stroke", INK).attr("stroke-width", 0.8);
  }});
  g.append("line").attr("x1", 23).attr("x2", 30).attr("y1", upper(0.1)).attr("y2", upper(0.1)).attr("stroke", INK).attr("stroke-width", 1);
  powLabel(g, 21, upper(10), "1");
  powLabel(g, 21, upper(0.1) - 2.5, "-1", 7);
  powLabel(g, 21, 866, "-2", 7);
  drawBarPanel(g, fGenes, fReplicates, fBrackets, [27.8, 549.8], yfn, 1001, lower, {val: 1e-2, lowTop: 877, upBottom: 865});
  conditions.forEach((c, i) => {
    const yy = 867.3 + i * 13.3;
    symbol(g, COND_SHAPE[i], 573.3, yy, COND_SHAPE[i] === "circle" ? 5 : 4.8, COND_COL[i]);
    label(g, 585, yy, c, {size: 9.3});
  });
}
</script>
</body></html>
